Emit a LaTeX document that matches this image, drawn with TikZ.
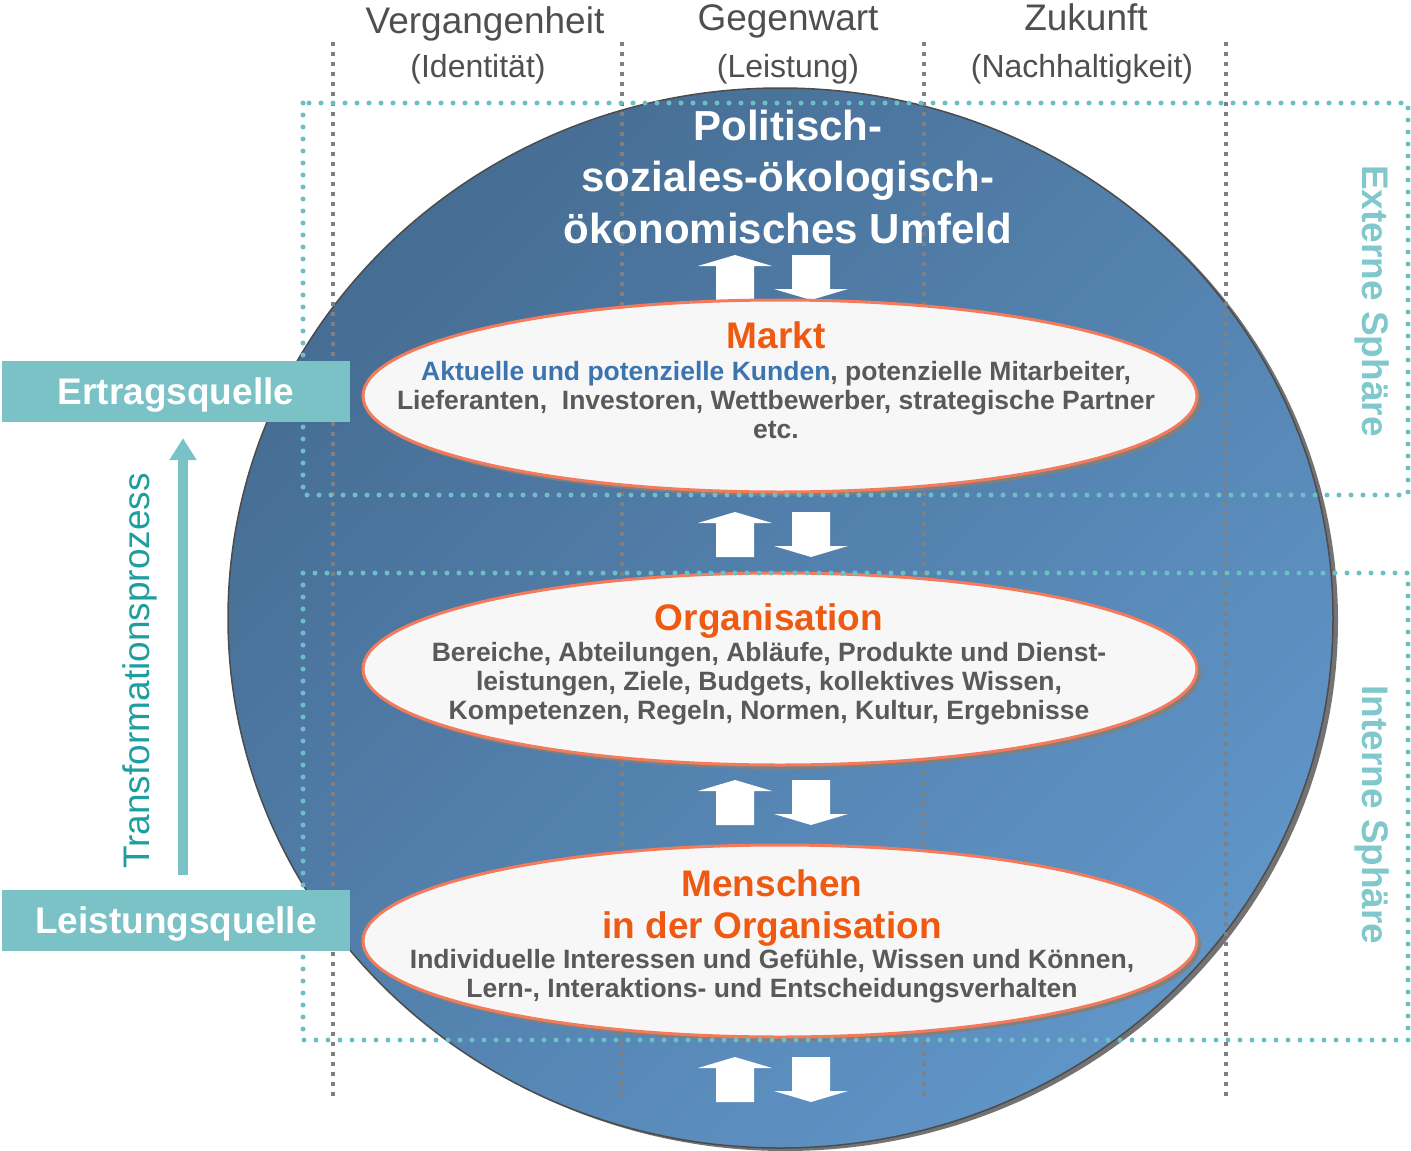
\documentclass[tikz,border=0pt]{standalone}
\usepackage{fontspec}
\setmainfont{Liberation Sans}
\usetikzlibrary{shapes.geometric,arrows.meta,shadows,positioning}
\definecolor{blueA}{HTML}{466D93}
\definecolor{blueB}{HTML}{6095C8}
\definecolor{coral}{HTML}{F47A5C}
\definecolor{ovalfill}{HTML}{F7F7F7}
\definecolor{headorange}{HTML}{EF5A12}
\definecolor{bodygray}{HTML}{595959}
\definecolor{kundblue}{HTML}{3B74AF}
\definecolor{tealbox}{HTML}{7BC2C7}
\definecolor{tealdot}{HTML}{6CBFC4}
\definecolor{tealtxt}{HTML}{1F9EA0}
\definecolor{spheretxt}{HTML}{80C8CC}
\definecolor{toplabel}{HTML}{4F4F4F}
\definecolor{lineg}{HTML}{808080}
\def\timeline#1{\draw[vdots] (#1,42) -- (#1,1100);}
\def\pair#1{\fill[white] (735,#1) -- (772,#1+11) -- (754,#1+11) -- (754,#1+45) -- (716,#1+45) -- (716,#1+11) -- (698,#1+11) -- cycle;
  \fill[white] (792,#1) -- (830,#1) -- (830,#1+34) -- (848,#1+34) -- (811,#1+45) -- (774,#1+34) -- (792,#1+34) -- cycle;}

\begin{document}
\begin{tikzpicture}[x=1pt,y=-1pt,
  world/.style={ellipse,minimum width=1105pt,minimum height=1060pt,inner sep=0pt,draw=black!70,line width=1.5pt,
    top color=blueA,bottom color=blueB,shading angle=45,
    drop shadow={fill=black!55,opacity=1,shadow xshift=5pt,shadow yshift=-3pt}},
  oval/.style={ellipse,minimum width=834pt,minimum height=192pt,inner sep=0pt,draw=coral,line width=3pt,fill=ovalfill,
    drop shadow={fill=black!50,opacity=1,shadow xshift=4pt,shadow yshift=-4pt}},
  vdots/.style={draw=lineg,line width=3.5pt,dash pattern=on 4pt off 6pt},
  tdots/.style={draw=tealdot,line width=5pt,line cap=round,dash pattern=on 0pt off 12pt},
  srcbox/.style={fill=tealbox,minimum width=348pt,minimum height=61pt,inner sep=0pt,text=white,
    text height=26.5pt,text depth=0pt,font=\fontsize{37}{44}\selectfont\bfseries},
  toptxt/.style={text=toplabel,anchor=base,inner sep=0pt},
  headtxt/.style={text=headorange,anchor=base,align=center,inner sep=0pt,font=\fontsize{37}{42}\selectfont\bfseries},
  bodytxt/.style={text=bodygray,anchor=base,align=center,inner sep=0pt,font=\fontsize{26.5}{29}\selectfont\bfseries},
  sidetxt/.style={inner sep=0pt,font=\fontsize{37}{44}\selectfont},
  transarrow/.style={draw=tealbox,line width=10pt,-{Triangle[width=26pt,length=22pt]}}]
\useasboundingbox (0,0) rectangle (1411,1151);

\node[world] (world) at (780.5,618) {};
\foreach \x in {333,622,924,1226} {\timeline{\x}}
\pair{255} \pair{512} \pair{780} \pair{1057}

\node[toptxt,font=\fontsize{37}{44}\selectfont] (verg) at (485,33) {Vergangenheit};
\node[toptxt,font=\fontsize{37}{44}\selectfont] (gegen) at (788,30) {Gegenwart};
\node[toptxt,font=\fontsize{37}{44}\selectfont] (zuk) at (1086,30) {Zukunft};
\node[toptxt,font=\fontsize{32}{38}\selectfont] (ident) at (478,77) {(Identität)};
\node[toptxt,font=\fontsize{32}{38}\selectfont] (leist) at (788,77) {(Leistung)};
\node[toptxt,font=\fontsize{32}{38}\selectfont] (nach) at (1082,77) {(Nachhaltigkeit)};

\node[text=white,anchor=base,align=center,inner sep=0pt,font=\fontsize{42}{51.5}\selectfont\bfseries] (umfeld) at (788,243)
  {Politisch-\\soziales-ökologisch-\\ökonomisches Umfeld};

\node[oval] (markt) at (780,396) {};
\node[headtxt] (markthead) at (776,348) {Markt};
\node[bodytxt] (marktbody) at (776,438)
  {\textcolor{kundblue}{Aktuelle und potenzielle Kunden}, potenzielle Mitarbeiter,\\Lieferanten,\ \ Investoren, Wettbewerber, strategische Partner\\etc.};

\node[oval] (orga) at (780,669) {};
\node[headtxt] (orgahead) at (769,630) {Organisation};
\node[bodytxt] (orgabody) at (769,719)
  {Bereiche, Abteilungen, Abläufe, Produkte und Dienst-\\leistungen, Ziele, Budgets, kollektives Wissen,\\Kompetenzen, Regeln, Normen, Kultur, Ergebnisse};

\node[oval] (menschen) at (780,941) {};
\node[headtxt] (menschenhead) at (772,938) {Menschen\\in der Organisation};
\node[bodytxt] (menschenbody) at (772,997)
  {Individuelle Interessen und Gefühle, Wissen und Können,\\Lern-, Interaktions- und Entscheidungsverhalten};

\draw[tdots] (303,103) rectangle (1408,495);
\draw[tdots] (303,573) rectangle (1408,1040);

\node[srcbox] (ertrag) at (176,391.5) {Ertragsquelle};
\node[srcbox] (leistung) at (176,920.5) {Leistungsquelle};
\draw[transarrow] ([xshift=7pt,yshift=15pt]leistung.north) -- ([xshift=7pt,yshift=-16pt]ertrag.south);
\node[sidetxt,text=tealtxt,rotate=90] (trans) at (140,671) {Transformationsprozess};

\node[sidetxt,text=spheretxt,rotate=-90,font=\fontsize{37}{44}\selectfont\bfseries] (ext) at (1372,301) {Externe Sphäre};
\node[sidetxt,text=spheretxt,rotate=-90,font=\fontsize{37}{44}\selectfont\bfseries] (int) at (1372,815) {Interne Sphäre};
\end{tikzpicture}
\end{document}
